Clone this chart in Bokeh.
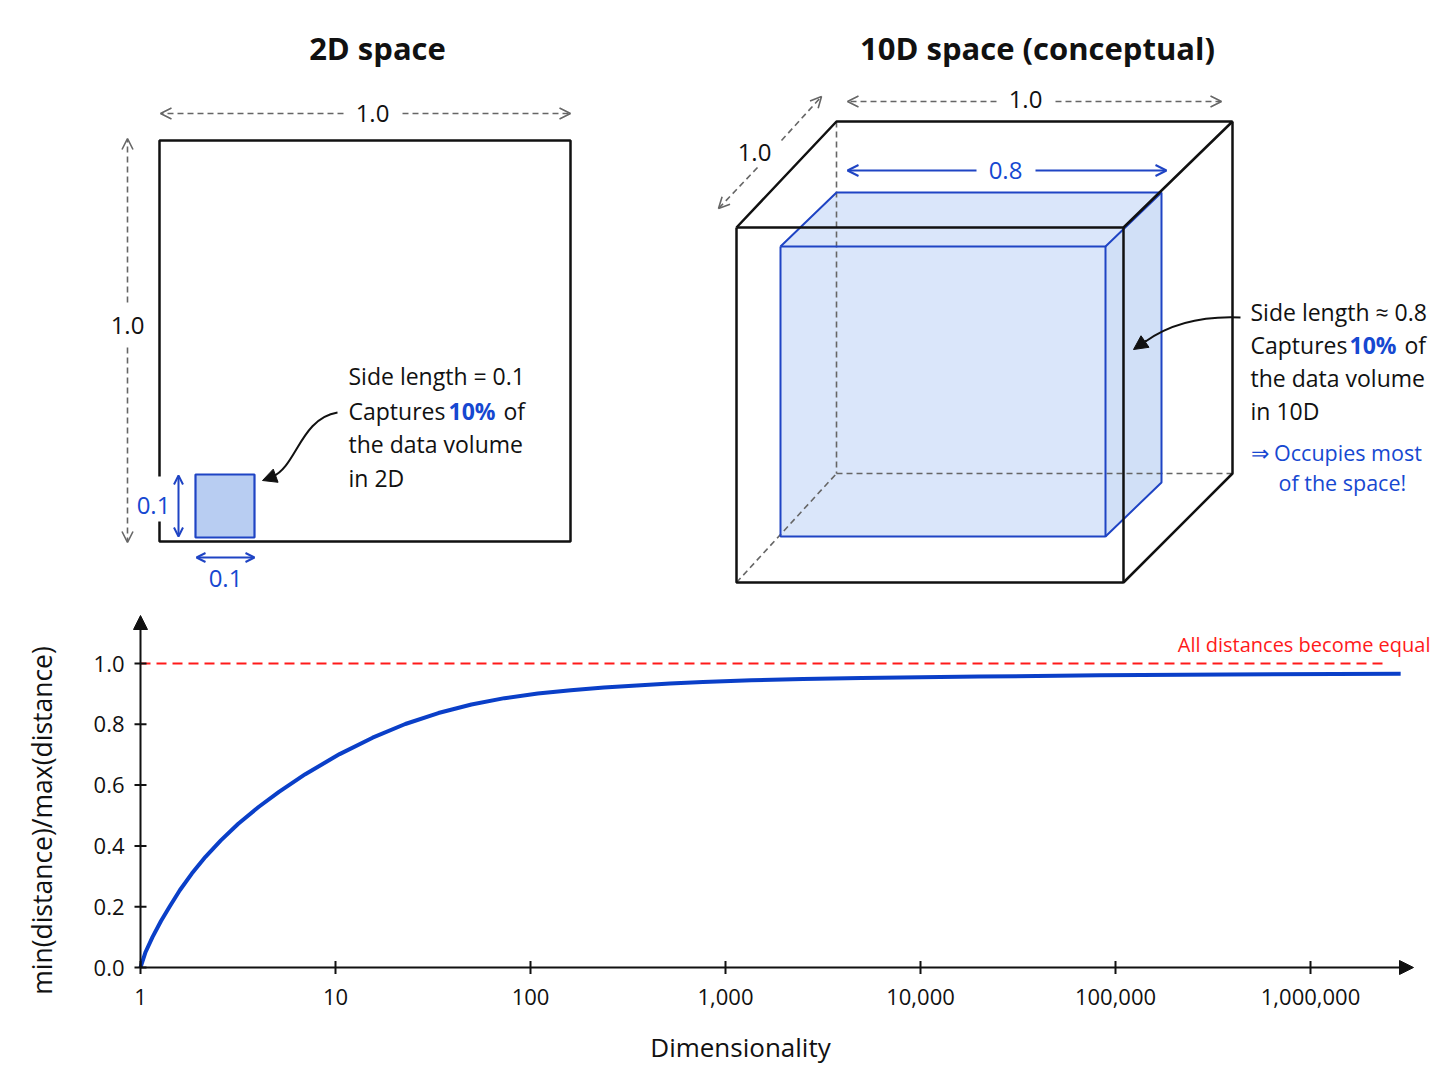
import math
from bokeh.plotting import figure
from bokeh.models import Range1d, Arrow, OpenHead, NormalHead
from bokeh.layouts import column
from bokeh.embed import file_html
from bokeh.resources import INLINE
from bokeh.core.properties import value

# ---------------- data ----------------
dims = [1, 1.062, 1.152, 1.274, 1.409, 1.591, 1.833, 2.154, 2.583, 3.162, 4.03, 5.13,
        7.0, 10.5, 15.5, 22.8, 33.7, 49.8, 73.5, 109, 161, 238, 351, 519, 766, 1355,
        2500, 5000, 20000, 83000, 370000, 2900000]
ratio = [0.0, 0.051, 0.100, 0.153, 0.200, 0.254, 0.309, 0.364, 0.418, 0.472, 0.528,
         0.578, 0.636, 0.702, 0.756, 0.801, 0.837, 0.865, 0.886, 0.901, 0.912, 0.921,
         0.928, 0.934, 0.939, 0.945, 0.949, 0.952, 0.957, 0.961, 0.964, 0.966]
equal_x = [1, 2500000]
equal_y = [1.0, 1.0]
x_tick_values = [1, 10, 100, 1000, 10000, 100000, 1000000]
x_tick_labels = ["1", "10", "100", "1,000", "10,000", "100,000", "1,000,000"]
y_tick_values = [0.0, 0.2, 0.4, 0.6, 0.8, 1.0]
y_tick_labels = ["0.0", "0.2", "0.4", "0.6", "0.8", "1.0"]

FONT = "Open Sans"
BLACK = "#111111"
GRAY = "#666666"
BLUE = "#1f44c4"
BLUE_TXT = "#1648d1"
SQ_FILL = "#b8cdf2"
BOX_FILL = "#d3e2f9"
RED = "#ff1a1a"
CURVE = "#0a3fc8"

W = 1440
TOP_H = 600
BOT_H = 480

# ---------------- top: illustration panel (pixel coordinates) ----------------
top = figure(width=W, height=TOP_H, x_range=Range1d(0, W), y_range=Range1d(TOP_H, 0),
             output_backend="svg", toolbar_location=None, min_border=0,
             x_axis_location=None, y_axis_location=None)
top.grid.visible = False
top.outline_line_color = None


def txt(fig, x, y, s, size=23, color=BLACK, bold=False, align="left",
        baseline="middle", angle=0.0):
    fig.text(x=[x], y=[y], text=[s], text_font=value(FONT), text_font_size=f"{size}px",
             text_color=color, text_font_style="bold" if bold else "normal",
             text_align=align, text_baseline=baseline, angle=angle)


def arrow(fig, x0, y0, x1, y1, color, width=1.6, dash="solid", both=False,
          head="open", size=11):
    def mk():
        if head == "open":
            return OpenHead(size=size, line_color=color, line_width=width)
        return NormalHead(size=size, fill_color=color, line_color=color, line_width=1)
    fig.add_layout(Arrow(start=mk() if both else None, end=mk(),
                         x_start=x0, y_start=y0, x_end=x1, y_end=y1,
                         line_color=color, line_width=width, line_dash=dash))


# titles
txt(top, 377, 47, "2D space", size=31, bold=True, align="center")
txt(top, 1037, 47, "10D space (conceptual)", size=31, bold=True, align="center")

# ---- 2D panel ----
top.quad(left=[159], right=[570], top=[140], bottom=[541], fill_color=None,
         line_color=BLACK, line_width=2.5)
top.quad(left=[195], right=[254], top=[474], bottom=[537], fill_color=SQ_FILL,
         line_color=BLUE, line_width=2.2)
arrow(top, 343, 113, 160, 113, GRAY, dash="6 4")
arrow(top, 402, 113, 570, 113, GRAY, dash="6 4")
txt(top, 372, 113, "1.0", size=24, align="center")
arrow(top, 127, 302, 127, 138, GRAY, dash="6 4")
arrow(top, 127, 347, 127, 542, GRAY, dash="6 4")
txt(top, 127, 325, "1.0", size=24, align="center")
arrow(top, 178, 475, 178, 536, BLUE, width=2, both=True, size=9)
# white backing behind the side label (hides the square's edge, as in the original)
top.quad(left=[136], right=[171], top=[476], bottom=[521], fill_color="white",
         line_color=None)
txt(top, 153, 505, "0.1", size=24, color=BLUE_TXT, align="center")
arrow(top, 196, 557, 254, 557, BLUE, width=2, both=True, size=9)
txt(top, 225, 578, "0.1", size=24, color=BLUE_TXT, align="center")

top.bezier(x0=[337], y0=[412], x1=[272], y1=[476], cx0=[300], cy0=[418],
           cx1=[296], cy1=[466], line_color=BLACK, line_width=2)
arrow(top, 273, 476, 262, 480, BLACK, width=2, head="normal", size=14)

txt(top, 348, 375, "Side length = 0.1")
txt(top, 348, 410, "Captures")
txt(top, 448, 410, "10%", color=BLUE_TXT, bold=True)
txt(top, 503, 410, "of")
txt(top, 348, 443, "the data volume")
txt(top, 348, 477, "in 2D")

# ---- 10D panel ----
top.patches(xs=[[780, 1105, 1105, 780], [780, 836, 1161, 1105], [1105, 1161, 1161, 1105]],
            ys=[[246, 246, 536, 536], [246, 192, 192, 246], [246, 192, 482, 536]],
            fill_color=[BOX_FILL, BOX_FILL, "#c9dbf6"], fill_alpha=0.85, line_color=None)
top.multi_line(xs=[[836, 836], [836, 1232], [736, 836]],
               ys=[[121, 473], [473, 473], [582, 473]],
               line_color=GRAY, line_width=1.6, line_dash="6 4")
top.multi_line(xs=[[780, 1105, 1105, 780, 780], [780, 836, 1161, 1105], [1161, 1161, 1105]],
               ys=[[246, 246, 536, 536, 246], [246, 192, 192, 246], [192, 482, 536]],
               line_color=BLUE, line_width=2)
top.multi_line(xs=[[736, 1123, 1123, 736, 736], [736, 836, 1232, 1123], [1232, 1232, 1123]],
               ys=[[227, 227, 582, 582, 227], [227, 121, 121, 227], [121, 473, 582]],
               line_color=BLACK, line_width=2.5)

arrow(top, 996, 101, 847, 101, GRAY, dash="6 4")
arrow(top, 1055, 101, 1221, 101, GRAY, dash="6 4")
txt(top, 1025, 99, "1.0", size=24, align="center")
arrow(top, 781, 140, 821, 96, GRAY, dash="6 4")
arrow(top, 757, 167, 718, 208, GRAY, dash="6 4")
txt(top, 754, 152, "1.0", size=24, align="center")
arrow(top, 976, 170, 847, 170, BLUE, width=2, size=11)
arrow(top, 1035, 170, 1166, 170, BLUE, width=2, size=11)
txt(top, 1005, 170, "0.8", size=24, color=BLUE_TXT, align="center")

top.bezier(x0=[1240], y0=[317], x1=[1145], y1=[341], cx0=[1196], cy0=[315],
           cx1=[1166], cy1=[326], line_color=BLACK, line_width=2)
arrow(top, 1146, 340, 1133, 349, BLACK, width=2, head="normal", size=14)

txt(top, 1250, 311, "Side length \u2248 0.8")
txt(top, 1250, 344, "Captures")
txt(top, 1349, 344, "10%", color=BLUE_TXT, bold=True)
txt(top, 1404, 344, "of")
txt(top, 1250, 377, "the data volume")
txt(top, 1250, 410, "in 10D")
txt(top, 1250, 452, "\u21d2 Occupies most", size=21.5, color=BLUE_TXT)
txt(top, 1278, 482, "of the space!", size=21.5, color=BLUE_TXT)

# ---------------- bottom: ratio vs dimensionality ----------------
# page-pixel anchors of the chart (layout only)
X0_PX, PX_PER_DEC = 140, 195.0      # where dimensionality 1 sits, pixels per decade
Y0_PX, PX_PER_UNIT = 967, 304.0     # where ratio 0 sits, pixels per unit ratio


def px_x(px):
    return 10 ** ((px - X0_PX) / PX_PER_DEC)


def px_y(py):
    return (Y0_PX - py) / PX_PER_UNIT


bot = figure(width=W, height=BOT_H, x_axis_type="log",
             x_range=Range1d(px_x(0), px_x(W)),
             y_range=Range1d(px_y(TOP_H + BOT_H), px_y(TOP_H)),
             output_backend="svg", toolbar_location=None, min_border=0,
             x_axis_location=None, y_axis_location=None)
bot.grid.visible = False
bot.outline_line_color = None

# reference level and curve
bot.line(equal_x, equal_y, line_color=RED, line_width=2, line_dash="10 6")
bot.line(dims, ratio, line_color=CURVE, line_width=4, line_join="round")

# axes with arrow heads
arrow(bot, 1, 0, px_x(1413), 0, BLACK, width=2, head="normal", size=14)
arrow(bot, 1, 0, 1, px_y(615), BLACK, width=2, head="normal", size=14)
bot.scatter(x=x_tick_values, y=[0] * len(x_tick_values), marker="dash", size=13,
            angle=math.pi / 2, line_color=BLACK, line_width=2)
bot.scatter(x=[1] * len(y_tick_values), y=y_tick_values, marker="dash", size=12,
            line_color=BLACK, line_width=2)
bot.text(x=x_tick_values, y=[px_y(996)] * len(x_tick_values), text=x_tick_labels,
         text_font=value(FONT), text_font_size="22px", text_color=BLACK,
         text_align="center", text_baseline="middle")
bot.text(x=[px_x(124)] * len(y_tick_values), y=y_tick_values, text=y_tick_labels,
         text_font=value(FONT), text_font_size="22px", text_color=BLACK,
         text_align="right", text_baseline="middle")
txt(bot, px_x(740), px_y(1046), "Dimensionality", size=26, align="center")
txt(bot, px_x(41), px_y(820), "min(distance)/max(distance)", size=26.5, align="center",
    angle=math.pi / 2)
txt(bot, px_x(1430), px_y(644), "All distances become equal", size=20, color=RED,
    align="right", baseline="middle")

layout = column(top, bot, spacing=0)
open("out.html", "w").write(file_html(layout, INLINE))
